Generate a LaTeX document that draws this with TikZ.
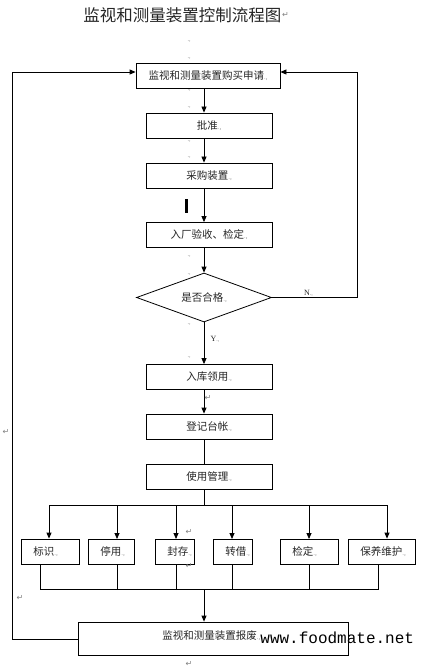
\documentclass[tikz,border=0pt]{standalone}
\usepackage{fontspec}
\setmainfont{Liberation Serif}
\newfontfamily\cjk{Noto Sans CJK SC}
\newfontfamily\symf{DejaVu Sans}
\newfontfamily\monof{Liberation Mono}
\usetikzlibrary{arrows.meta,shapes.geometric}
\newcommand{\pmk}{{\color{gray}\fontsize{6}{6}\selectfont .,}}
\begin{document}
\begin{tikzpicture}[x=1pt,y=-1pt,line width=0.8pt,
  every node/.style={text=black!85},
  box/.style={draw=black,minimum height=25pt,inner sep=0pt,font=\cjk\fontsize{10.5}{12}\selectfont},
  sbox/.style={draw=black,minimum height=25pt,inner sep=0pt,anchor=west,font=\cjk\fontsize{10.5}{12}\selectfont},
  arr/.style={-{Triangle[length=6pt,width=5pt]}},
  pmark/.style={text=gray,font=\fontsize{6}{6}\selectfont,inner sep=0pt},
  ret/.style={text=gray,font=\symf\fontsize{8}{8}\selectfont,inner sep=0pt},
  lbl/.style={font=\fontsize{8}{9}\selectfont,inner sep=0pt}]
\useasboundingbox (0,0) rectangle (425,668);
\fill[white] (0,0) rectangle (425,668);

% title
\node[anchor=west,inner sep=0pt,font=\cjk\fontsize{16.5}{18}\selectfont] (title) at (83,15) {监视和测量装置控制流程图};
\node[ret,anchor=west] (r0) at (title.east) {↵};

% axis coordinate
\coordinate (ax) at (204,0);

% main boxes
\node[box,minimum width=144pt] (apply) at (208,75.5) {监视和测量装置购买申请\pmk};
\node[box,minimum width=126pt] (approve) at (209,125.5) {批准\pmk};
\node[box,minimum width=126pt] (buy) at (209,175.5) {采购装置\pmk};
\node[box,minimum width=126pt] (accept) at (209,235) {入厂验收、检定\pmk};
\node[draw=black,diamond,aspect=2.75,minimum width=135pt,minimum height=49pt,inner sep=0pt,font=\cjk\fontsize{10.5}{12}\selectfont] (qual) at (204,297.5) {是否合格\pmk};
\node[box,minimum width=126pt] (store) at (209,377) {入库领用\pmk};
\node[box,minimum width=126pt] (ledger) at (209,426.5) {登记台帐\pmk};
\node[box,minimum width=126pt] (use) at (209,476.5) {使用管理\pmk};

% small boxes
\node[sbox,minimum width=58pt,text width=50pt,align=left] (s1) at (21,551.5) {\hspace*{8pt}标识\pmk};
\node[sbox,minimum width=46pt,text width=38pt,align=left] (s2) at (88,551.5) {\hspace*{8pt}停用\pmk};
\node[sbox,minimum width=39pt,text width=31pt,align=left] (s3) at (155,551.5) {\hspace*{8pt}封存\pmk};
\node[sbox,minimum width=39pt,text width=31pt,align=left] (s4) at (213,551.5) {\hspace*{8pt}转借\pmk};
\node[sbox,minimum width=58pt,text width=50pt,align=left] (s5) at (280,551.5) {\hspace*{8pt}检定\pmk};
\node[sbox,minimum width=67pt,text width=59pt,align=left] (s6) at (348,551.5) {\hspace*{8pt}保养维护\pmk};

% bottom box
\node[draw=black,minimum width=270pt,minimum height=33pt,inner sep=0pt] (scrap) at (213,638.5) {};
\node[inner sep=0pt,anchor=west,font=\cjk\fontsize{10.5}{12}\selectfont] (scrapt) at (162,636) {监视和测量装置报废\pmk};

% main flow
\draw[arr] (apply.south -| ax) -- (approve.north -| ax);
\draw[arr] (approve.south -| ax) -- (buy.north -| ax);
\draw[arr] (buy.south -| ax) -- (accept.north -| ax);
\draw[arr] (accept.south -| ax) -- (qual.north);
\draw[arr] (qual.south) -- node[lbl,pos=0.4,xshift=11pt]{Y\pmk} (store.north -| ax);
\draw[arr] (store.south -| ax) -- (ledger.north -| ax);
\draw (ledger.south -| ax) -- (use.north -| ax);

% N loop
\coordinate (nr) at (357,297.5);
\draw[arr] (qual.east) -- node[lbl,above,pos=0.43,yshift=1pt]{N\pmk} (nr) |- ([yshift=3.5pt]apply.east);

% distribution bus
\coordinate (bus) at (204,505);
\draw (use.south -| ax) -- (bus);
\coordinate (bl) at (49,505);
\coordinate (br) at (387,505);
\draw (bl) -- (br);
\draw[arr] (bl) -- (bl |- s1.north);
\draw[arr] (117,505) -- (117,539);
\draw[arr] (176,505) -- (176,539);
\draw[arr] (232,505) -- (232,539);
\draw[arr] (309,505) -- (309,539);
\draw[arr] (br) -- (br |- s6.north);

% collection bus
\coordinate (cl) at (40,589);
\coordinate (cr) at (378,589);
\draw (s1.south -| cl) -- (cl) -- (cr) -- (s6.south -| cr);
\draw (117,564) -- (117,589);
\draw (176,564) -- (176,589);
\draw (232,564) -- (232,589);
\draw (309,564) -- (309,589);
\draw[arr] (204,589) -- (scrap.north -| ax);

% left loop
\coordinate (ll) at (12,639);
\draw[arr] (scrap.west |- ll) -- (ll) |- ([yshift=3.5pt]apply.west);

% word artifacts
\fill[black] (185,199) rectangle (187.5,213);
\foreach \yy in {42,59,91,108,142,158,257,275,325,358}
  \node[pmark] at (189,\yy) {.,};
\node[ret] at (6,432) {↵};
\node[ret] at (20,598) {↵};
\node[ret] at (189,664) {↵};
\node[ret] at (189,532) {↵};
\node[ret] at (189,566) {↵};
\node[ret] at (208,398) {↵};

% watermark
\node[anchor=west,inner sep=0pt,text=black,font=\monof\fontsize{16}{18}\selectfont] (wm) at (260,638) {www.foodmate.net};
\end{tikzpicture}
\end{document}
